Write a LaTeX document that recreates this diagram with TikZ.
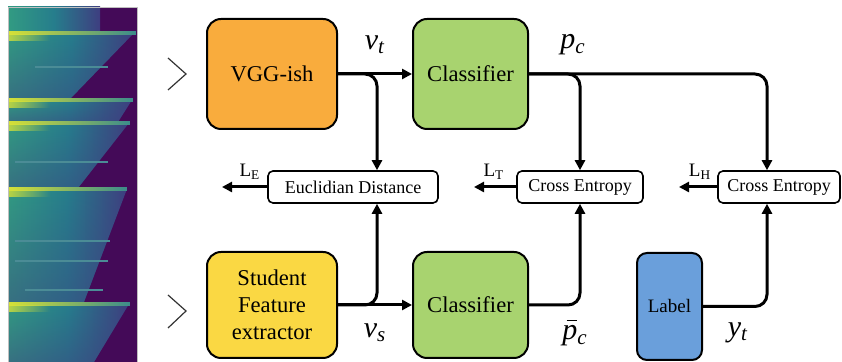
\documentclass[tikz,border=0pt]{standalone}
\usepackage{fontspec}
\setmainfont{Liberation Serif}
\newfontfamily\lsr{Liberation Serif}
\usetikzlibrary{arrows.meta,calc,fadings}
\definecolor{vggc}{HTML}{F9AC3D}
\definecolor{clsc}{HTML}{A8D36F}
\definecolor{stuc}{HTML}{FAD843}
\definecolor{labc}{HTML}{6A9FDB}
\definecolor{spbg}{RGB}{68,10,88}
\definecolor{spteal}{RGB}{50,155,130}
\definecolor{spmid}{RGB}{38,125,140}
\definecolor{spblue}{RGB}{62,62,128}
\definecolor{spyel}{RGB}{215,225,55}
\definecolor{spline}{RGB}{60,140,140}
\definecolor{spfaint}{RGB}{75,140,150}
\begin{document}
\begin{tikzpicture}[x=0.5pt,y=-0.5pt,
  bigbox/.style={draw=black, line width=1pt, rounded corners=7pt, align=center, inner sep=0pt,
    font=\lsr\fontsize{11.3}{13.5}\selectfont},
  lossbox/.style={draw=black, line width=0.8pt, rounded corners=2.5pt, minimum height=16pt,
    inner sep=0pt, font=\lsr\fontsize{9}{10}\selectfont},
  conn/.style={line width=1.5pt, rounded corners=6pt},
  arr/.style={conn, -{Triangle[length=5pt,width=5pt]}},
  vlab/.style={font=\lsr\fontsize{15}{18}\selectfont\itshape, inner sep=0pt},
  llab/.style={font=\lsr\fontsize{9.5}{11}\selectfont, inner sep=0pt},
  chev/.style={line width=0.6pt, draw=black!80}]
\useasboundingbox (0,0) rectangle (842,362);

% ---- spectrogram ----
\fill[spbg] (8,7) rectangle (137,362);
\shade[left color=spteal, right color=spblue, middle color=spmid] (8,7) rectangle (100,31);
\foreach \ya/\xa/\yb/\xb in {33/134/99/70, 100/132/122/118, 123/129/188/78, 189/127/302/84, 304/129/362/94} {
  \shade[left color=spteal, right color=spblue, middle color=spmid] (8,\ya) -- (\xa,\ya) -- (\xb,\yb) -- (8,\yb) -- cycle;
  \fill[spblue, path fading=north, opacity=0.45] (8,\ya) -- (\xa,\ya) -- (\xb,\yb) -- (8,\yb) -- cycle;
}
\foreach \y/\xa/\xb in {67/35/108, 162/15/108, 241/15/110, 261/15/108, 290/25/103} {
  \draw[spfaint, line width=0.9pt] (\xa,\y) -- (\xb,\y);
}
\foreach \y/\x in {33/136,100/133,123/130,189/127,304/130} {
  \fill[spline] (8,\y-2) rectangle (\x,\y+2);
  \fill[spyel, path fading=east] (8,\y-2) rectangle (\x,\y+2);
  \fill[spyel, path fading=east, opacity=0.8] (9,\y+1) rectangle (50,\y+8);
}
\draw[black!25, line width=0.4pt] (8,362) -- (8,7) -- (137,7) -- (137,362);

% ---- chevrons ----
\draw[chev] (168,58) -- (186,74) -- (168,90);
\draw[chev] (168,295) -- (186,311) -- (168,328);

% ---- main boxes ----
\node[bigbox, fill=vggc, minimum width=65pt, minimum height=55pt] (vgg) at (272,74) {VGG-ish};
\node[bigbox, fill=clsc, minimum width=57.5pt, minimum height=55pt] (cls1) at (470.5,74) {Classifier};
\node[bigbox, fill=stuc, minimum width=65pt, minimum height=53pt] (stu) at (272,305) {Student\\Feature\\extractor};
\node[bigbox, fill=clsc, minimum width=57.5pt, minimum height=53pt] (cls2) at (470.5,305) {Classifier};
\node[bigbox, fill=labc, minimum width=32.5pt, minimum height=53.5pt, rounded corners=5pt,
  font=\lsr\fontsize{9.5}{11}\selectfont] (lab) at (669.5,306.5) {Label};

% ---- loss boxes ----
\node[lossbox, minimum width=85pt] (ed) at (353,187) {Euclidian Distance};
\node[lossbox, minimum width=63pt] (ce1) at (580,187) {Cross Entropy};
\node[lossbox, minimum width=61pt] (ce2) at (779,187) {Cross Entropy};

% ---- loss outputs ----
\coordinate (le) at (222,187);
\coordinate (lt) at (474,187);
\coordinate (lh) at (679,187);
\draw[arr] (ed.west) -- (le);
\draw[arr] (ce1.west) -- (lt);
\draw[arr] (ce2.west) -- (lh);
\node[llab] (tle) at (250,172) {L\textsubscript{E}};
\node[llab] (tlt) at (494,172) {L\textsubscript{T}};
\node[llab] (tlh) at (700,172) {L\textsubscript{H}};

% ---- connectors ----
\draw[arr] (vgg.east) -- (cls1.west);
\draw[arr] (vgg.east) -| ($(ed.north)+(24,0)$);
\draw[arr] (cls1.east) -| ($(ce2.north)+(-12,0)$);
\draw[arr] (cls1.east) -| (ce1.north);
\draw[arr] (stu.east) -- (cls2.west);
\draw[arr] (stu.east) -| ($(ed.south)+(24,0)$);
\draw[arr] (cls2.east) -| (ce1.south);
\draw[arr] (lab.east) -| ($(ce2.south)+(-12,0)$);

% ---- variable labels ----
\node[vlab] (vt) at (375,45) {v\textsubscript{t}};
\node[vlab] (pc) at (573,45) {p\textsubscript{c}};
\node[vlab] (vs) at (375,333) {v\textsubscript{s}};
\node[vlab] (pbc) at (575,333) {\makebox[0pt][l]{\raisebox{0.62em}{\kern0.14em\rule{0.36em}{0.06em}}}p\textsubscript{c}};
\node[vlab] (yt) at (738,333) {y\textsubscript{t}};
\end{tikzpicture}
\end{document}
